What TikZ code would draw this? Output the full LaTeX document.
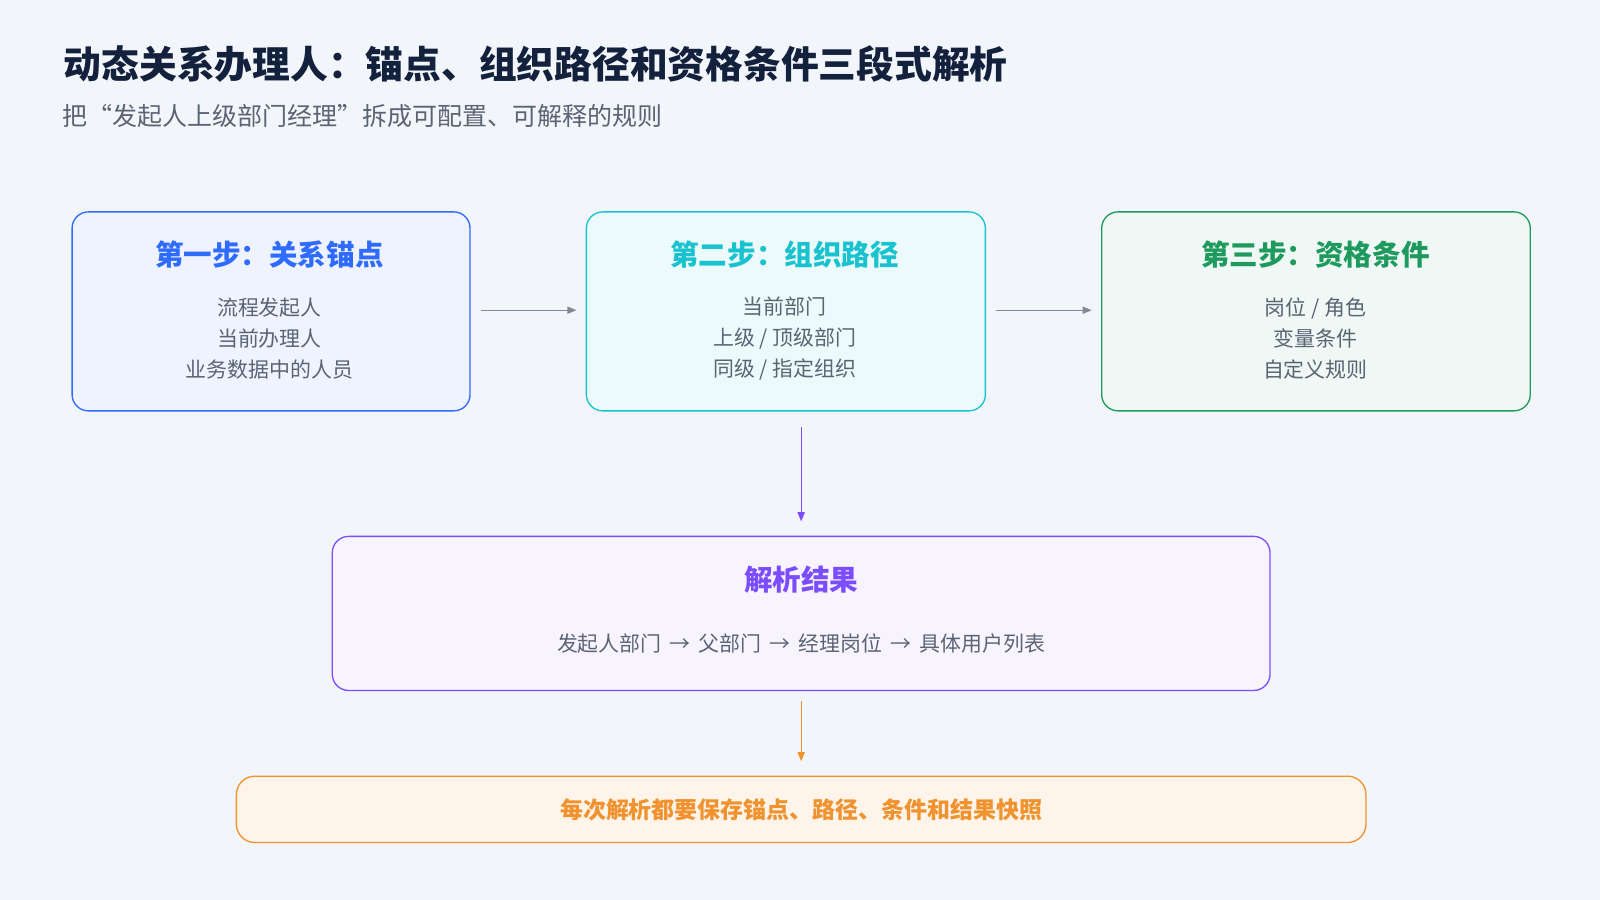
\documentclass[tikz,border=0pt]{standalone}
\usepackage{fontspec}
\setmainfont{Noto Sans CJK SC}
\usetikzlibrary{arrows.meta,positioning}
\definecolor{bgc}{HTML}{F2F6FB}
\definecolor{titc}{HTML}{14213D}
\definecolor{subc}{HTML}{5B6474}
\definecolor{bluec}{HTML}{2F6BFF}
\definecolor{cyanc}{HTML}{19C2CF}
\definecolor{greenc}{HTML}{1E9A5E}
\definecolor{purpc}{HTML}{7C4DFF}
\definecolor{orgc}{HTML}{F0922E}
\definecolor{gryc}{HTML}{7F8A99}
\tikzset{
  step/.style={draw=#1, line width=1.3pt, rounded corners=16pt, anchor=north west},
  head/.style={font=\bfseries\fontsize{28}{32}\selectfont, text=#1},
  body/.style={font=\fontsize{20.5}{30.5}\selectfont, text=subc, align=center},
  link/.style={-{Triangle[length=9pt,width=7pt]}, line width=1.3pt, draw=#1}
}
\begin{document}
\begin{tikzpicture}[x=1pt,y=-1pt]
  \fill[bgc] (0,0) rectangle (1568,882);
  \useasboundingbox (0,0) rectangle (1568,882);
  \node[anchor=west, font=\bfseries\fontsize{37}{42}\selectfont, text=titc] (title) at (59,63) {动态关系办理人：锚点、组织路径和资格条件三段式解析};
  \node[anchor=west, font=\fontsize{24.5}{28}\selectfont, text=subc] (sub) at (58,114) {把“发起人上级部门经理”拆成可配置、可解释的规则};
  % three steps
  \node[step=bluec, fill=bluec!8, minimum width=390pt, minimum height=195pt] (anchor) at (70,207) {};
  \node[step=cyanc, fill=cyanc!8, minimum width=391pt, minimum height=195pt] (path) at (574,207) {};
  \node[step=greenc, fill=greenc!7, minimum width=420pt, minimum height=195pt] (cond) at (1079,207) {};
  \node[head=bluec] at (264,249) {第一步：关系锚点};
  \node[body] at (264,332) {流程发起人\\当前办理人\\业务数据中的人员};
  \node[head=cyanc] at (769,249) {第二步：组织路径};
  \node[body] at (769,332) {当前部门\\上级 / 顶级部门\\同级 / 指定组织};
  \node[head=greenc] at (1289,249) {第三步：资格条件};
  \node[body] at (1289,332) {岗位 / 角色\\变量条件\\自定义规则};
  % result
  \node[step=purpc, fill=purpc!6, minimum width=919pt, minimum height=151pt] (res) at (325,525) {};
  \node[head=purpc] at (res.center |- 0,568) {解析结果};
  \node[body] at (res.center |- 0,631) {发起人部门 \,→\, 父部门 \,→\, 经理岗位 \,→\, 具体用户列表};
  \node[step=orgc, fill=orgc!10, minimum width=1107pt, minimum height=65pt, rounded corners=18pt] (snap) at (231,760) {};
  \node[font=\bfseries\fontsize{22.5}{26}\selectfont, text=orgc] at (snap.center) {每次解析都要保存锚点、路径、条件和结果快照};
  % connectors
  \draw[link=gryc, shorten <=10pt, shorten >=9pt] (anchor.east |- 0,304) -- (path.west |- 0,304);
  \draw[link=gryc, shorten <=10pt, shorten >=9pt] (path.east |- 0,304) -- (cond.west |- 0,304);
  \draw[link=purpc, shorten <=15pt, shorten >=14pt] (path.south -| res.north) -- (res.north);
  \draw[link=orgc, shorten <=10pt, shorten >=14pt] (res.south) -- (snap.north);
\end{tikzpicture}
\end{document}
